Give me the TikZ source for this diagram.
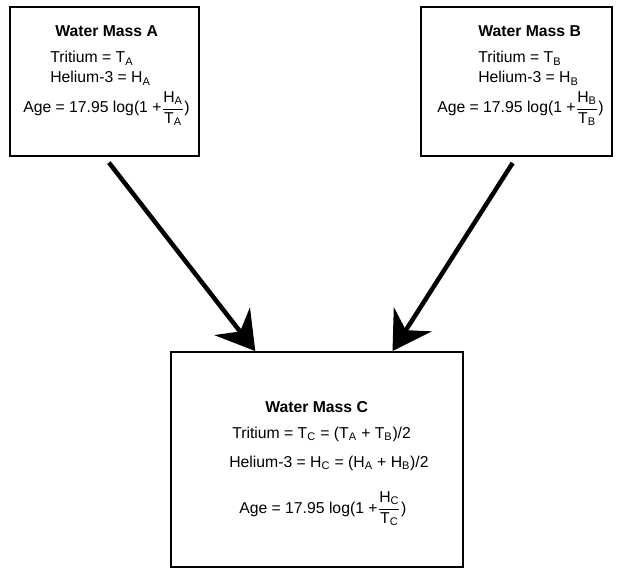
\documentclass[tikz,border=0pt]{standalone}
\usepackage{amsmath}
\usepackage{fontspec}
\setmainfont{Liberation Sans}
\usetikzlibrary{calc,positioning,arrows.meta}
\tikzset{
  mass/.style={rectangle,draw=black,line width=1.3pt,fill=white,inner sep=0pt},
  lbl/.style={anchor=base west,inner sep=0pt,font=\fontsize{11.2}{13}\selectfont},
  ttl/.style={lbl,font=\fontsize{11.2}{13}\selectfont\bfseries},
  mix/.style={-{Stealth[length=9.4mm,width=11.2mm,inset=3.2mm]},line width=3.2pt,black},
}
\newcommand{\agefrac}[1]{Age = 17.95 log(1 +$\dfrac{\text{H}_\text{#1}}{\text{T}_\text{#1}}$)}

\begin{document}
\begin{tikzpicture}
  \useasboundingbox (0,0) rectangle (15.5,14.225);
  % the three water masses
  \node[mass,minimum width=4.725cm,minimum height=3.725cm] (ma) at (2.6125,12.1875){};
  \node[mass,minimum width=4.775cm,minimum height=3.725cm] (mb) at (12.9125,12.1875){};
  \node[mass,minimum width=7.3cm,minimum height=5.375cm] (mc) at (7.925,2.7375){};
  % labels, mass A
  \node[ttl] (ta) at (1.375,13.3){Water Mass A};
  \node[lbl] (tra) at (1.25,12.65){Tritium = T\textsubscript{A}};
  \node[lbl] (hea) at (1.25,12.15){Helium-3 = H\textsubscript{A}};
  \node[lbl] (aga) at (0.575,11.4){\agefrac{A}};
  % labels, mass B
  \node[ttl] (tb) at (11.95,13.3){Water Mass B};
  \node[lbl] (trb) at (11.95,12.65){Tritium = T\textsubscript{B}};
  \node[lbl] (heb) at (11.95,12.15){Helium-3 = H\textsubscript{B}};
  \node[lbl] (agb) at (10.925,11.4){\agefrac{B}};
  % labels, mixed mass C
  \node[ttl] (tc) at (6.625,3.925){Water Mass C};
  \node[lbl] (trc) at (5.8,3.275){Tritium = T\textsubscript{C} = (T\textsubscript{A} + T\textsubscript{B})/2};
  \node[lbl] (hec) at (5.725,2.55){Helium-3 = H\textsubscript{C} = (H\textsubscript{A} + H\textsubscript{B})/2};
  \node[lbl] (agc) at (5.975,1.4){\agefrac{C}};
  % mixing arrows
  \draw[mix,shorten <=0.18cm] (ma.south) -- ($(mc.north west)!0.29!(mc.north east)$);
  \draw[mix,shorten <=0.18cm] (mb.south) -- ($(mc.north west)!0.757!(mc.north east)$);
\end{tikzpicture}
\end{document}
